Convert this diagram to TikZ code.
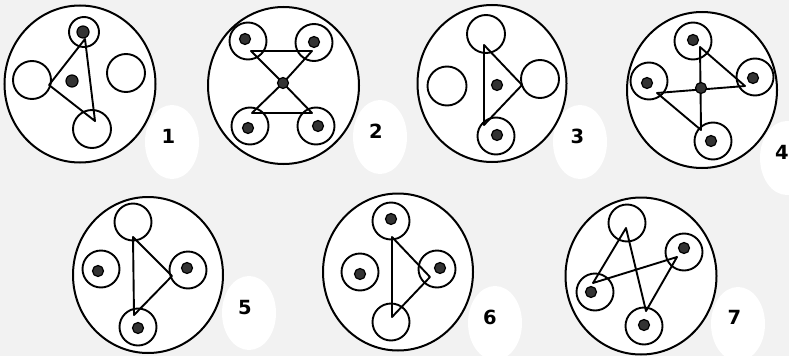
\documentclass[tikz,border=0pt]{standalone}
\usepackage{fontspec}
\newfontfamily\digitfont{DejaVu Sans}

\tikzset{
  plate/.style={draw, fill=white, line width=2pt},
  well/.style={draw, fill=white, line width=1.9pt},
  bead/.style={draw, fill=black!80, line width=1.2pt},
  link/.style={draw, line width=1.9pt, line join=round},
  tag/.style={fill=white},
  num/.style={font=\digitfont\bfseries\fontsize{19.5}{19.5}\selectfont, inner sep=0pt}
}

\begin{document}
\begin{tikzpicture}[x=1pt,y=-1pt]

    \fill[gray!10] (0,0) rectangle (789,356);
    \useasboundingbox (0,0) rectangle (789,356);
    \clip (0,0) rectangle (789,356);

    % number tags
    \fill[tag] (172,142) ellipse [x radius=27pt, y radius=37pt];
    \fill[tag] (380,137) ellipse [x radius=27pt, y radius=37pt];
    \fill[tag] (580,142) ellipse [x radius=27pt, y radius=37pt];
    \fill[tag] (787,158) ellipse [x radius=27pt, y radius=37pt];
    \fill[tag] (249,313) ellipse [x radius=27pt, y radius=37pt];
    \fill[tag] (495,323) ellipse [x radius=27pt, y radius=37pt];
    \fill[tag] (738,324) ellipse [x radius=27pt, y radius=37pt];

    % 1
    \draw[plate] (80,84) ellipse [x radius=75.5pt, y radius=78.5pt];
    \draw[well] (84,32) circle (15pt);
    \draw[well] (32,80) circle (19pt);
    \draw[well] (126,73) circle (19pt);
    \draw[well] (92,129) circle (19pt);
    \coordinate (t1) at (85,39);
    \coordinate (l1) at (49,85);
    \coordinate (b1) at (95,121);
    \draw[link] (t1) -- (l1) -- (b1) -- cycle;
    \filldraw[bead] (83,32) circle (6pt);
    \filldraw[bead] (72,81) circle (6pt);
    \node[num] (n1) at (168.5,136.5) {1};

    % 2
    \draw[plate] (283.5,85.5) ellipse [x radius=75.5pt, y radius=78.5pt];
    \draw[well] (248,41) circle (18.5pt);
    \draw[well] (314,42.5) circle (18.5pt);
    \draw[well] (250,126) circle (18.5pt);
    \draw[well] (316,126) circle (18.5pt);
    \coordinate (tl2) at (251,51);
    \coordinate (tr2) at (312,51);
    \coordinate (c2) at (283,83);
    \coordinate (bl2) at (252,113);
    \coordinate (br2) at (312,113);
    \draw[link] (tl2) -- (tr2) -- (c2) -- cycle;
    \draw[link] (bl2) -- (br2) -- (c2) -- cycle;
    \filldraw[bead] (245,39) circle (5.5pt);
    \filldraw[bead] (314,42) circle (5.5pt);
    \filldraw[bead] (248,128) circle (5.5pt);
    \filldraw[bead] (318,126) circle (5.5pt);
    \filldraw[bead] (c2) circle (5.5pt);
    \node[num] (n2) at (376,131) {2};

    % 3
    \draw[plate] (492,83.5) ellipse [x radius=74.5pt, y radius=78.5pt];
    \draw[well] (486,34) circle (19pt);
    \draw[well] (447,86) circle (19.5pt);
    \draw[well] (540,79) circle (19pt);
    \draw[well] (496,136) circle (18.5pt);
    \coordinate (t3) at (484,45);
    \coordinate (r3) at (522,85);
    \coordinate (b3) at (484,125);
    \draw[link] (t3) -- (r3) -- (b3) -- cycle;
    \filldraw[bead] (497,135) circle (5.5pt);
    \filldraw[bead] (497,85) circle (5.5pt);
    \node[num] (n3) at (577.5,136.5) {3};

    % 4
    \draw[plate] (702,90) ellipse [x radius=75pt, y radius=78pt];
    \draw[well] (693,41) circle (18.5pt);
    \draw[well] (649,81) circle (18.5pt);
    \draw[well] (755,77) circle (18.5pt);
    \draw[well] (713,141) circle (18.5pt);
    \coordinate (t4) at (700,47);
    \coordinate (r4) at (745,86);
    \coordinate (l4) at (657,93);
    \coordinate (b4) at (701,130);
    \draw[link] (t4) -- (b4) -- (l4) -- (r4) -- cycle;
    \filldraw[bead] (693,40) circle (5.5pt);
    \filldraw[bead] (647,83) circle (5.5pt);
    \filldraw[bead] (753,78) circle (5.5pt);
    \filldraw[bead] (711,141) circle (5.5pt);
    \filldraw[bead] (701,88) circle (5.5pt);
    \node[num] (n4) at (782,152.5) {4};

    % 5
    \draw[plate] (148,275) ellipse [x radius=75pt, y radius=78pt];
    \draw[well] (133,222) circle (18.5pt);
    \draw[well] (101,269) circle (18.5pt);
    \draw[well] (188,270) circle (18.5pt);
    \draw[well] (138,327) circle (18.5pt);
    \coordinate (t5) at (133,237);
    \coordinate (r5) at (172,276);
    \coordinate (b5) at (134,315);
    \draw[link] (t5) -- (r5) -- (b5) -- cycle;
    \filldraw[bead] (98,271) circle (5.5pt);
    \filldraw[bead] (187,268) circle (5.5pt);
    \filldraw[bead] (138,328) circle (5.5pt);
    \node[num] (n5) at (245,308) {5};

    % 6
    \draw[plate] (398,272) ellipse [x radius=75pt, y radius=78.5pt];
    \draw[well] (391,221) circle (18.5pt);
    \draw[well] (360,272) circle (18.5pt);
    \draw[well] (437,269) circle (18.5pt);
    \draw[well] (391,322) circle (18.5pt);
    \coordinate (t6) at (392,237);
    \coordinate (r6) at (430,277);
    \coordinate (b6) at (392,317);
    \draw[link] (t6) -- (r6) -- (b6) -- cycle;
    \filldraw[bead] (391,219) circle (5.5pt);
    \filldraw[bead] (360,274) circle (5.5pt);
    \filldraw[bead] (440,268) circle (5.5pt);
    \node[num] (n6) at (490,317) {6};

    % 7
    \draw[plate] (641,276) ellipse [x radius=75.5pt, y radius=78.5pt];
    \draw[well] (627,223) circle (18.5pt);
    \draw[well] (684,252) circle (18.5pt);
    \draw[well] (595,292) circle (18.5pt);
    \draw[well] (644,326) circle (18.5pt);
    \coordinate (t7) at (626,228);
    \coordinate (l7) at (593,283);
    \coordinate (r7) at (677,257);
    \coordinate (b7) at (646,311);
    \draw[link] (t7) -- (l7) -- (r7) -- (b7) -- cycle;
    \filldraw[bead] (684,248) circle (5.5pt);
    \filldraw[bead] (591,292) circle (5.5pt);
    \filldraw[bead] (644,325) circle (5.5pt);
    \node[num] (n7) at (734.5,317.5) {7};

\end{tikzpicture}
\end{document}
